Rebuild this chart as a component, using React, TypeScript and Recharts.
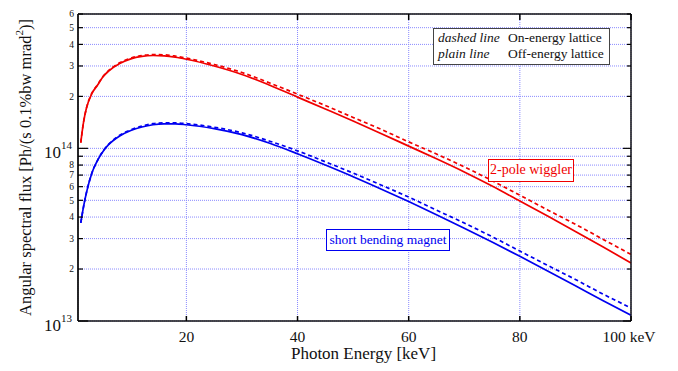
import React from 'react';
import { LineChart, Line, XAxis, YAxis, CartesianGrid, Label } from 'recharts';

// Photon energy grid [keV]
const energies = [1, 1.5, 2, 3, 4, 5, 6, 8, 10, 12, 14, 16, 18, 20, 25, 30, 35, 40, 45, 50, 55, 60, 65, 70, 75, 80, 85, 90, 95, 100];

// 2-pole wiggler, off-energy lattice (plain line)
const wigglerOff = [1.08e14, 1.42e14, 1.7e14, 2.08e14, 2.32e14, 2.6e14, 2.8e14, 3.1e14, 3.3e14, 3.41e14, 3.45e14, 3.43e14, 3.37e14, 3.28e14, 3.0e14, 2.68e14, 2.32e14, 1.98e14, 1.69e14, 1.44e14, 1.22e14, 1.03e14, 8.7e13, 7.3e13, 6.05e13, 4.95e13, 4.05e13, 3.3e13, 2.68e13, 2.17e13];
// 2-pole wiggler, on-energy lattice (dashed line)
const wigglerOn = [1.08e14, 1.42e14, 1.7e14, 2.09e14, 2.33e14, 2.61e14, 2.82e14, 3.13e14, 3.33e14, 3.45e14, 3.49e14, 3.48e14, 3.42e14, 3.33e14, 3.06e14, 2.75e14, 2.39e14, 2.06e14, 1.77e14, 1.51e14, 1.29e14, 1.09e14, 9.27e13, 7.81e13, 6.5e13, 5.35e13, 4.4e13, 3.63e13, 2.97e13, 2.43e13];
// Short bending magnet, off-energy lattice (plain line)
const bendOff = [3.7e13, 4.6e13, 5.5e13, 7.2e13, 8.5e13, 9.6e13, 1.05e14, 1.18e14, 1.27e14, 1.33e14, 1.37e14, 1.385e14, 1.385e14, 1.37e14, 1.3e14, 1.2e14, 1.07e14, 9.3e13, 8.0e13, 6.85e13, 5.82e13, 4.92e13, 4.13e13, 3.45e13, 2.87e13, 2.37e13, 1.95e13, 1.6e13, 1.31e13, 1.08e13];
// Short bending magnet, on-energy lattice (dashed line)
const bendOn = [3.7e13, 4.6e13, 5.5e13, 7.2e13, 8.5e13, 9.65e13, 1.055e14, 1.19e14, 1.28e14, 1.345e14, 1.39e14, 1.405e14, 1.405e14, 1.39e14, 1.325e14, 1.23e14, 1.1e14, 9.67e13, 8.36e13, 7.19e13, 6.14e13, 5.22e13, 4.39e13, 3.69e13, 3.08e13, 2.54e13, 2.1e13, 1.74e13, 1.43e13, 1.19e13];

const xTicks = [20, 40, 60, 80, 100];
const yTicks = [1e13, 2e13, 3e13, 4e13, 5e13, 6e13, 7e13, 8e13, 9e13, 1e14, 2e14, 3e14, 4e14, 5e14, 6e14];
const xDomain = [0.5, 100];
const yDomain = [1e13, 6e14];

const rows = energies.map((e, i) => ({
  e,
  wigglerOff: wigglerOff[i],
  wigglerOn: wigglerOn[i],
  bendOff: bendOff[i],
  bendOn: bendOn[i],
}));

const FONT = '"Liberation Serif", "DejaVu Serif", serif';
const RED = '#f00000';
const BLUE = '#0000f0';
const GRID = '#8a8aff';

function splitLog(v: number) {
  const exp = Math.floor(Math.log10(v) + 1e-9);
  const mant = Math.round(v / Math.pow(10, exp));
  return { exp, mant };
}

const LeftTick = (props: any) => {
  const { x, y, payload } = props;
  const { exp, mant } = splitLog(payload.value);
  const major = mant === 1;
  return (
    <g>
      <line x1={x} x2={x + (major ? 10 : 5)} y1={y} y2={y} stroke="#000" strokeWidth={1.2} />
      {major ? (
        <text x={x - 6} y={y + 10} textAnchor="end" fontFamily={FONT} fontSize={17} fill="#111">
          10
          <tspan dy={-9} fontSize={11}>{exp}</tspan>
        </text>
      ) : mant <= 8 ? (
        <text x={x - 4} y={y + 3.4} textAnchor="end" fontFamily={FONT} fontSize={9.5} fill="#111">
          {mant}
        </text>
      ) : null}
    </g>
  );
};

const RightTick = (props: any) => {
  const { x, y, payload } = props;
  const { mant } = splitLog(payload.value);
  const major = mant === 1;
  return <line x1={x - (major ? 8 : 4)} x2={x} y1={y} y2={y} stroke="#000" strokeWidth={1.2} />;
};

const BottomTick = (props: any) => {
  const { x, y, payload } = props;
  const v = payload.value;
  return (
    <g>
      <line x1={x} x2={x} y1={y - 5} y2={y} stroke="#000" strokeWidth={1.5} />
      <text x={v === 100 ? x - 2 : x} y={y + 21} textAnchor="middle" fontFamily={FONT} fontSize={15.5} fill="#111">
        {v === 100 ? '100 keV' : v}
      </text>
    </g>
  );
};

const TopTick = (props: any) => {
  const { x, y } = props;
  return <line x1={x} x2={x} y1={y} y2={y + 6} stroke="#000" strokeWidth={1.5} />;
};

const YTitle = (props: any) => {
  const vb = props.viewBox || { x: 0, y: 14, width: 78, height: 307 };
  const cx = vb.x + 31;
  const cy = vb.y + vb.height / 2;
  return (
    <text x={cx} y={cy} transform={`rotate(-90 ${cx} ${cy})`} textAnchor="middle" fontFamily={FONT} fontSize={16.5} fill="#111">
      Angular spectral flux [Ph/(s 0.1%bw mrad
      <tspan dy={-8} fontSize={11}>2</tspan>
      <tspan dy={8}>)]</tspan>
    </text>
  );
};

const XTitle = (props: any) => {
  const vb = props.viewBox || { x: 78, y: 321, width: 553, height: 50 };
  return (
    <text x={vb.x + vb.width / 2 + 9} y={vb.y + 38} textAnchor="middle" fontFamily={FONT} fontSize={17} fill="#111">
      Photon Energy [keV]
    </text>
  );
};

const boxText: React.CSSProperties = {
  position: 'absolute',
  fontFamily: FONT,
  background: '#fff',
  whiteSpace: 'nowrap',
  boxSizing: 'border-box',
};

const legendCell: React.CSSProperties = {
  position: 'absolute',
  fontFamily: FONT,
  fontSize: 13.5,
  lineHeight: '15.5px',
  whiteSpace: 'nowrap',
  color: '#111',
};

export default function App() {
  return (
    <div style={{ position: 'absolute', left: 0, top: 0, width: 678, height: 371, background: '#fff' }}>
      <LineChart width={678} height={371} data={rows} margin={{ top: 13, right: 46, bottom: 0, left: 0 }}>
        <CartesianGrid stroke={GRID} strokeDasharray="1 1" strokeWidth={1} />
        <XAxis
          dataKey="e"
          type="number"
          domain={xDomain}
          allowDataOverflow
          ticks={xTicks}
          interval={0}
          height={50}
          tickSize={0}
          tickMargin={0}
          tickLine={false}
          tick={<BottomTick />}
          axisLine={{ stroke: '#111', strokeWidth: 1.5 }}
        >
          <Label content={XTitle} />
        </XAxis>
        <XAxis
          xAxisId="top"
          orientation="top"
          dataKey="e"
          type="number"
          domain={xDomain}
          allowDataOverflow
          ticks={xTicks}
          interval={0}
          height={1}
          tickSize={0}
          tickMargin={0}
          tickLine={false}
          tick={<TopTick />}
          axisLine={{ stroke: '#111', strokeWidth: 1.5 }}
        />
        <YAxis
          scale="log"
          type="number"
          domain={yDomain}
          allowDataOverflow
          ticks={yTicks}
          interval={0}
          width={78}
          tickSize={0}
          tickMargin={0}
          tickLine={false}
          tick={<LeftTick />}
          axisLine={{ stroke: '#111', strokeWidth: 1.8 }}
        >
          <Label content={YTitle} />
        </YAxis>
        <YAxis
          yAxisId="right"
          orientation="right"
          scale="log"
          type="number"
          domain={yDomain}
          allowDataOverflow
          ticks={yTicks}
          interval={0}
          width={1}
          tickSize={0}
          tickMargin={0}
          tickLine={false}
          tick={<RightTick />}
          axisLine={{ stroke: '#111', strokeWidth: 1.5 }}
        />
        <Line type="monotone" dataKey="wigglerOff" stroke={RED} strokeWidth={1.7} dot={false} isAnimationActive={false} />
        <Line type="monotone" dataKey="wigglerOn" stroke={RED} strokeWidth={1.7} strokeDasharray="4 3" dot={false} isAnimationActive={false} />
        <Line type="monotone" dataKey="bendOff" stroke={BLUE} strokeWidth={1.7} dot={false} isAnimationActive={false} />
        <Line type="monotone" dataKey="bendOn" stroke={BLUE} strokeWidth={1.7} strokeDasharray="4 3" dot={false} isAnimationActive={false} />
      </LineChart>

      <div
        style={{
          ...boxText,
          left: 433,
          top: 28,
          width: 177,
          height: 37,
          border: '1.5px solid #444',
        }}
      >
        <div style={{ ...legendCell, left: 4, top: 1, fontStyle: 'italic' }}>dashed line</div>
        <div style={{ ...legendCell, left: 74, top: 1 }}>On-energy lattice</div>
        <div style={{ ...legendCell, left: 4, top: 17, fontStyle: 'italic' }}>plain line</div>
        <div style={{ ...legendCell, left: 74, top: 17 }}>Off-energy lattice</div>
      </div>

      <div
        style={{
          ...boxText,
          left: 488,
          top: 159,
          width: 86,
          height: 23,
          border: `1.5px solid ${RED}`,
          color: RED,
          fontSize: 14,
          lineHeight: '20px',
          textAlign: 'center',
        }}
      >
        2-pole wiggler
      </div>

      <div
        style={{
          ...boxText,
          left: 326,
          top: 229,
          width: 124,
          height: 22,
          border: `1.5px solid ${BLUE}`,
          color: BLUE,
          fontSize: 13.5,
          lineHeight: '19px',
          textAlign: 'center',
        }}
      >
        short bending magnet
      </div>
    </div>
  );
}
